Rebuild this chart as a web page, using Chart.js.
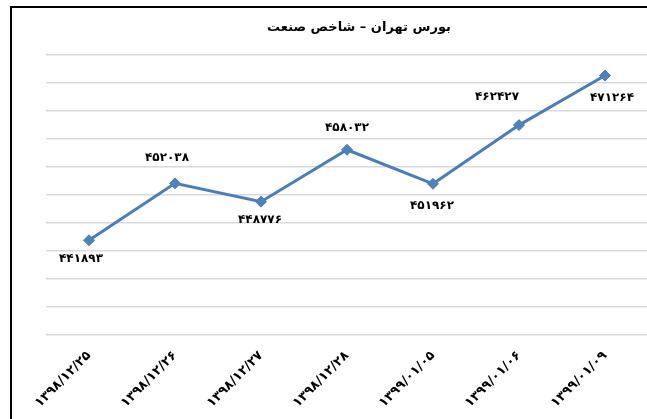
<!DOCTYPE html>
<html>
<head>
<meta charset="utf-8">
<script src="https://cdn.jsdelivr.net/npm/chart.js@4"></script>
<style>
  html, body {
    margin: 0;
    padding: 0;
    background: #fff;
    overflow: hidden;
  }
  .frame {
    position: absolute;
    left: 10px;
    top: 6px;
    width: 694px;
    height: 430px;
    border: 2px solid #000;
    background: #fff;
  }
</style>
</head>
<body>
<div class="frame">
  <canvas id="myChart"></canvas>
</div>
<script>
const chartTitle = "بورس تهران – شاخص صنعت";

const dates = [
  "۱۳۹۸/۱۲/۲۵",
  "۱۳۹۸/۱۲/۲۶",
  "۱۳۹۸/۱۲/۲۷",
  "۱۳۹۸/۱۲/۲۸",
  "۱۳۹۹/۰۱/۰۵",
  "۱۳۹۹/۰۱/۰۶",
  "۱۳۹۹/۰۱/۰۹",
];

const indexValues = [441893, 452038, 448776, 458032, 451962, 462427, 471264];

// labels printed next to the points (persian digits, as in the source)
const valueLabels = ["۴۴۱۸۹۳", "۴۵۲۰۳۸", "۴۴۸۷۷۶", "۴۵۸۰۳۲", "۴۵۱۹۶۲", "۴۶۲۴۲۷", "۴۷۱۲۶۴"];

const yMin = 425000;
const yMax = 475000;
const yStep = 5000;

// where each value label sits relative to its point [dx, dy]
const labelOffsets = [[-8, 19], [-8, -25], [-1, 18], [0, -22], [-1, 22], [-22, -28], [7, 22]];

const FONT = "'DejaVu Sans', 'Noto Sans', sans-serif";

const valueLabelPlugin = {
  id: "valueLabels",
  afterDatasetsDraw(chart) {
    const ctx = chart.ctx;
    const meta = chart.getDatasetMeta(0);
    ctx.save();
    ctx.font = "bold 12px " + FONT;
    ctx.fillStyle = "#000";
    ctx.textAlign = "center";
    ctx.textBaseline = "middle";
    meta.data.forEach((pt, i) => {
      const [dx, dy] = labelOffsets[i];
      ctx.fillText(valueLabels[i], pt.x + dx, pt.y + dy);
    });
    ctx.restore();
  },
};

// center the title on the whole frame, not just inside the padding
const wideTitlePlugin = {
  id: "wideTitle",
  afterLayout(chart) {
    const t = chart.titleBlock;
    if (!t) return;
    t.left = 0;
    t.right = chart.width;
    t.width = chart.width;
  },
};

const ctx = document.getElementById("myChart").getContext("2d");

new Chart(ctx, {
  type: "line",
  data: {
    labels: dates,
    datasets: [
      {
        data: indexValues,
        borderColor: "#4a7ebb",
        borderWidth: 3,
        pointStyle: "rectRot",
        pointRadius: 5.5,
        pointBackgroundColor: "#4f81bd",
        pointBorderColor: "#4a7ebb",
        pointBorderWidth: 1,
        tension: 0,
      },
    ],
  },
  options: {
    responsive: true,
    maintainAspectRatio: false,
    animation: false,
    layout: {
      padding: { left: 34, right: 58, top: 0, bottom: 0 },
    },
    plugins: {
      legend: { display: false },
      tooltip: { enabled: false },
      title: {
        display: true,
        text: chartTitle,
        color: "#000",
        font: { family: FONT, size: 13, weight: "bold" },
        padding: { top: 12, bottom: 19 },
      },
    },
    scales: {
      x: {
        offset: true,
        grid: { display: false, drawTicks: false },
        border: { display: false },
        ticks: {
          color: "#000",
          font: { family: FONT, size: 13, weight: "bold" },
          minRotation: 45,
          maxRotation: 45,
          padding: 13,
          autoSkip: false,
        },
        afterFit(scale) {
          scale.height = 103;
        },
      },
      y: {
        min: yMin,
        max: yMax,
        grid: { color: "#d9d9d9", lineWidth: 1.5, drawTicks: false },
        border: { display: false },
        ticks: { display: false, stepSize: yStep },
        afterFit(scale) {
          scale.width = 0;
        },
      },
    },
  },
  plugins: [valueLabelPlugin, wideTitlePlugin],
});
</script>
</body>
</html>
